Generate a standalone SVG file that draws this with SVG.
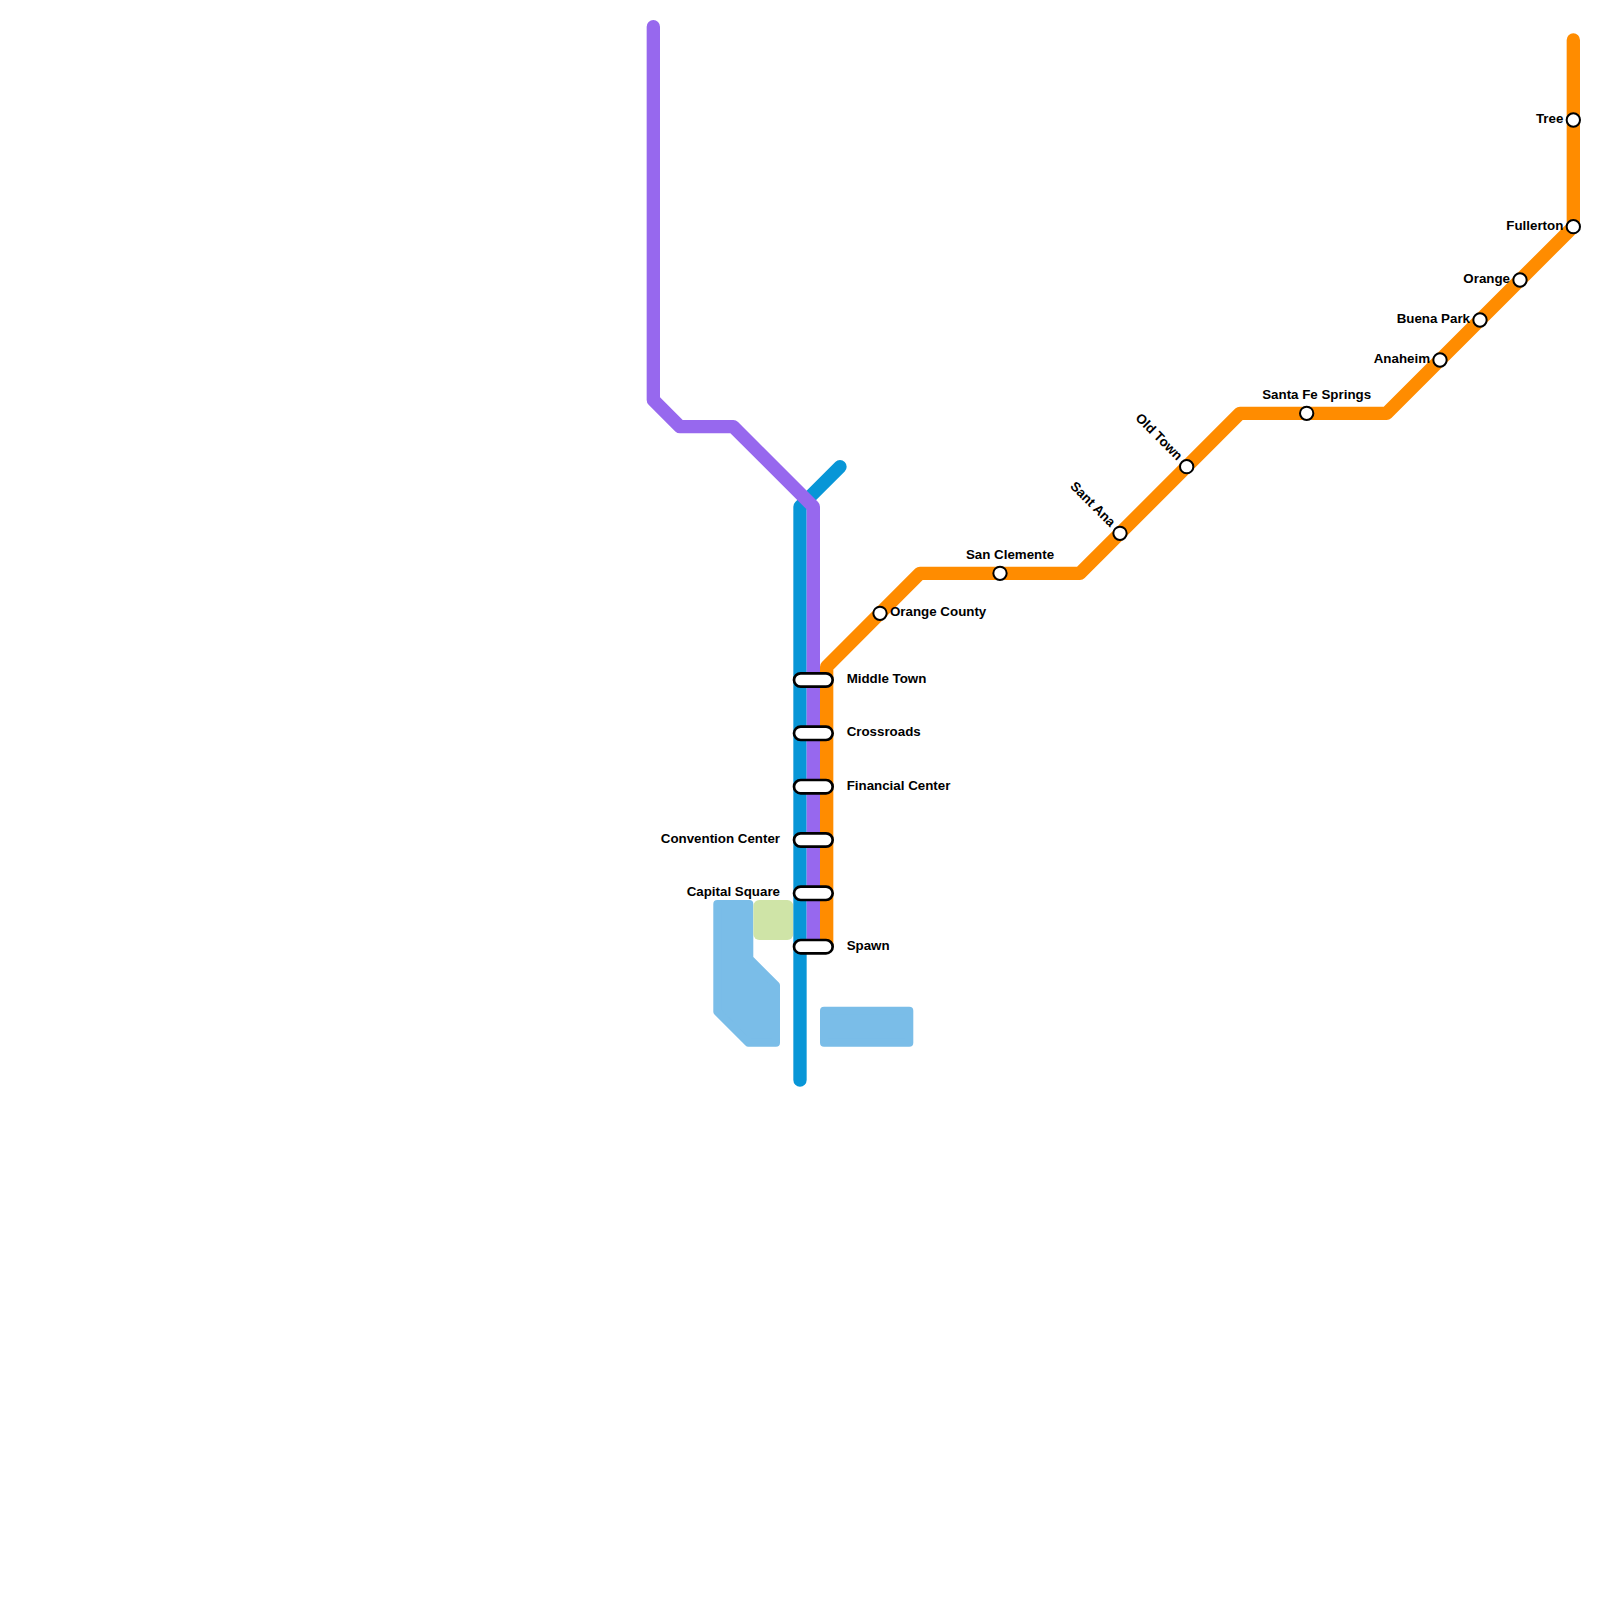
<svg xmlns="http://www.w3.org/2000/svg" width="1600" height="1600" viewBox="0 0 1600 1600">
<style>
.l{fill:none;stroke-width:13.33;stroke-linecap:round;stroke-linejoin:round}
.w{fill:#7abde8;stroke:#7abde8;stroke-width:8;stroke-linejoin:round}
.s{fill:#fff;stroke:#000;stroke-width:2}
.i{fill:#fff;stroke:#000;stroke-width:2.67}
text{font-family:"Liberation Sans",Arial,sans-serif;font-size:13.33px;font-weight:700;fill:#000}
.e{text-anchor:end}.m{text-anchor:middle}
</style>
<rect width="1600" height="1600" fill="#fff"/>
<g id="water"><path class="w" d="M717.3 904H749.3V958.7L776 985.3V1042.7H748.3L717.3 1011.7Z"/><path class="w" d="M824 1010.7H909.3V1042.7H824Z"/></g>
<g id="park"><rect x="753.33" y="900" width="40" height="40" rx="6" fill="#cfe4a7"/></g>
<g id="connectors">
<path class="l" stroke="#0896d7" d="M800 1080V506.67L840 466.67"/>
<path class="l" stroke="#9768ee" d="M653.33 26.67V400L680 426.67H733.33L813.33 506.67V946.67"/>
<path class="l" stroke="#ff8c00" d="M826.67 946.67V666.67L920 573.33H1080L1240 413.33H1386.67L1573.33 226.67V40"/>
</g>
<g id="st-middle-town"><rect class="i" x="794" y="673.33" width="38.67" height="13.33" rx="6.67"/><text x="846.67" y="683">Middle Town</text></g>
<g id="st-crossroads"><rect class="i" x="794" y="726.67" width="38.67" height="13.33" rx="6.67"/><text x="846.67" y="736.3">Crossroads</text></g>
<g id="st-financial"><rect class="i" x="794" y="780" width="38.67" height="13.33" rx="6.67"/><text x="846.67" y="789.7">Financial Center</text></g>
<g id="st-convention"><rect class="i" x="794" y="833.33" width="38.67" height="13.33" rx="6.67"/><text class="e" x="780" y="843">Convention Center</text></g>
<g id="st-capital"><rect class="i" x="794" y="886.67" width="38.67" height="13.33" rx="6.67"/><text class="e" x="780" y="896.3">Capital Square</text></g>
<g id="st-spawn"><rect class="i" x="794" y="940" width="38.67" height="13.33" rx="6.67"/><text x="846.67" y="949.7">Spawn</text></g>
<g id="st-orange-county"><circle class="s" cx="880" cy="613.33" r="6.67"/><text x="890" y="616.3">Orange County</text></g>
<g id="st-san-clemente"><circle class="s" cx="1000" cy="573.33" r="6.67"/><text class="m" x="1010" y="559">San Clemente</text></g>
<g id="st-sant-ana"><circle class="s" cx="1120" cy="533.33" r="6.67"/><text class="e" transform="rotate(45 1110 527.5)" x="1110" y="527.5">Sant Ana</text></g>
<g id="st-old-town"><circle class="s" cx="1186.67" cy="466.67" r="6.67"/><text class="e" transform="rotate(45 1177 461)" x="1177" y="461">Old Town</text></g>
<g id="st-santa-fe"><circle class="s" cx="1306.67" cy="413.33" r="6.67"/><text class="m" x="1316.67" y="399">Santa Fe Springs</text></g>
<g id="st-anaheim"><circle class="s" cx="1440" cy="360" r="6.67"/><text class="e" x="1430" y="363.3">Anaheim</text></g>
<g id="st-buena-park"><circle class="s" cx="1480" cy="320" r="6.67"/><text class="e" x="1470" y="323.3">Buena Park</text></g>
<g id="st-orange"><circle class="s" cx="1520" cy="280" r="6.67"/><text class="e" x="1510" y="283.3">Orange</text></g>
<g id="st-fullerton"><circle class="s" cx="1573.33" cy="226.67" r="6.67"/><text class="e" x="1563.3" y="230">Fullerton</text></g>
<g id="st-tree"><circle class="s" cx="1573.33" cy="120" r="6.67"/><text class="e" x="1563.3" y="123.3">Tree</text></g>
</svg>
